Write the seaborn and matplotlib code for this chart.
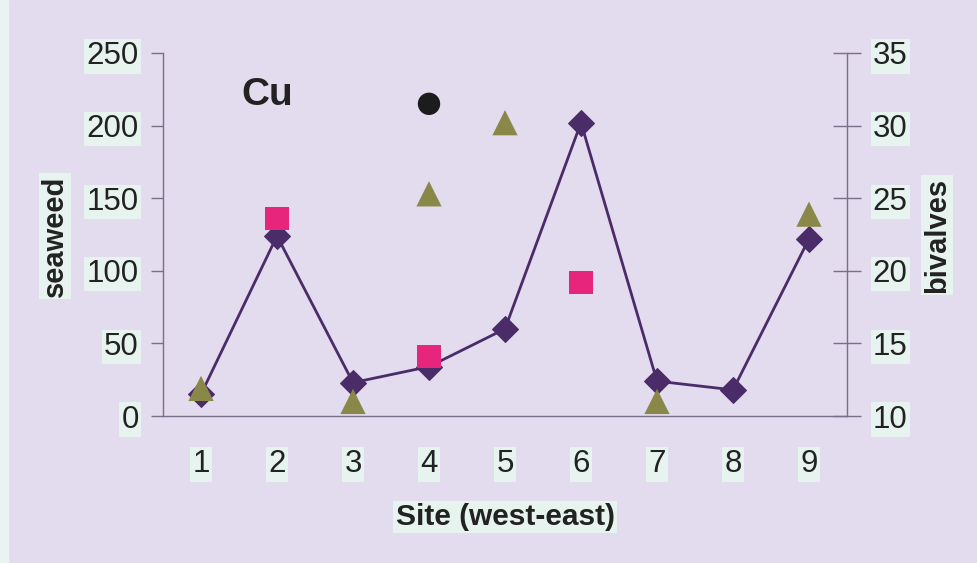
import seaborn as sns
import matplotlib.pyplot as plt
import pandas as pd

sns.set_style("white")
plt.rcParams["font.family"] = ["Liberation Sans", "DejaVu Sans"]

# data
sites = [1, 2, 3, 4, 5, 6, 7, 8, 9]
seaweed_line = [15, 124, 23, 34, 60, 202, 24, 18, 122]
square_sites = [2, 4, 6]
square_vals = [136, 41, 92]
circle_sites = [4]
circle_vals = [215]
tri_sites = [1, 3, 4, 5, 7, 9]
tri_vals = [11.9, 11.0, 25.3, 30.2, 11.0, 23.9]   # bivalves axis

bg = "#E3DBEE"
box = "#E7F3EF"
spine = "#786F88"
lbl = dict(facecolor=box, edgecolor="none", pad=1.5)

line_df = pd.DataFrame({"site": sites, "val": seaweed_line})
sq_df = pd.DataFrame({"site": square_sites, "val": square_vals})
ci_df = pd.DataFrame({"site": circle_sites, "val": circle_vals})
tr_df = pd.DataFrame({"site": tri_sites, "val": tri_vals})

fig = plt.figure(figsize=(9.77, 5.63), dpi=100, facecolor=bg)
fig.patches.append(plt.Rectangle((0, 0), 8 / 977, 1, transform=fig.transFigure,
                                 color="#EAF3F1", zorder=0))
ax = fig.add_axes([163 / 977, 1 - 416 / 563, 684 / 977, 363 / 563])
ax.set_facecolor(bg)
ax2 = ax.twinx()

sns.lineplot(data=line_df, x="site", y="val", ax=ax, color="#4A2C68", lw=2,
             marker="D", markersize=13, markeredgecolor="#4A2C68", zorder=3)
sns.scatterplot(data=sq_df, x="site", y="val", ax=ax, marker="s", s=280,
                color="#E8257C", edgecolor="none", zorder=4)
sns.scatterplot(data=ci_df, x="site", y="val", ax=ax, marker="o", s=260,
                color="#1C1C1C", edgecolor="none", zorder=4)
sns.scatterplot(data=tr_df, x="site", y="val", ax=ax2, marker="^", s=330,
                color="#8A8848", edgecolor="none", zorder=4)

ax.set_xlim(0.5, 9.5)
ax.set_ylim(0, 250)
ax2.set_ylim(10, 35)
ax.set_yticks([0, 50, 100, 150, 200, 250])
ax2.set_yticks([10, 15, 20, 25, 30, 35])
ax.set_xticks([x + 0.5 for x in range(0, 10)])
ax.set_xticklabels([])
ax.set_xticks(sites, minor=True)
ax.set_xticklabels([str(s) for s in sites], minor=True)
ax.set_xlabel("")
ax.set_ylabel("")
ax2.set_ylabel("")

for a in (ax, ax2):
    for s in a.spines.values():
        s.set_color(spine)
        s.set_linewidth(1)
    a.spines["top"].set_visible(False)
ax.spines["right"].set_visible(False)
ax2.spines["left"].set_visible(False)
ax2.spines["bottom"].set_visible(False)

ax.tick_params(axis="y", direction="out", length=9, width=1, color=spine,
               labelsize=22.5, pad=8.5, labelcolor="#222222")
ax.tick_params(axis="x", which="major", direction="out", length=8, width=1,
               color=spine)
ax.tick_params(axis="x", which="minor", length=0, labelsize=22.5, pad=24,
               labelcolor="#222222")
ax2.tick_params(axis="y", direction="inout", length=20, width=1, color=spine,
                labelsize=22.5, pad=8.5, labelcolor="#222222")

for t in ax.get_yticklabels() + ax2.get_yticklabels() + ax.get_xticklabels(minor=True):
    t.set_bbox(lbl)

fig.text(55 / 977, 1 - 236 / 563, "seaweed", rotation=90, ha="center", va="center",
         fontsize=21, fontweight="bold", color="#222222", bbox=lbl)
fig.text(937 / 977, 1 - 235 / 563, "bivalves", rotation=90, ha="center", va="center",
         fontsize=21, fontweight="bold", color="#222222", bbox=lbl)
fig.text(505 / 977, 1 - 517 / 563, "Site (west-east)", ha="center", va="center",
         fontsize=21.5, fontweight="bold", color="#222222", bbox=lbl)
fig.text(267 / 977, 1 - 95 / 563, "Cu", ha="center", va="center",
         fontsize=28, fontweight="bold", color="#222222")

fig.savefig("out.png", dpi=100, facecolor=bg)
